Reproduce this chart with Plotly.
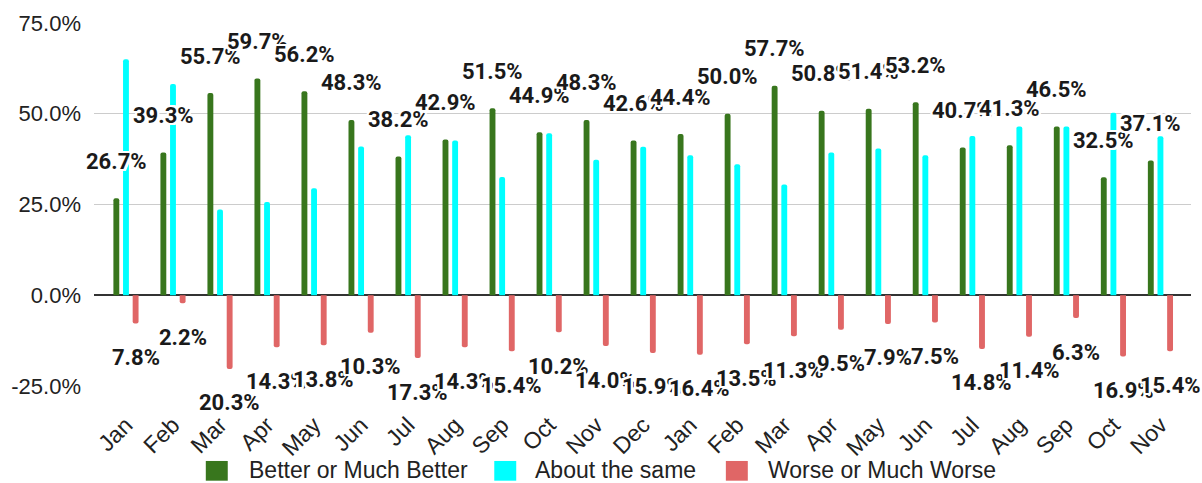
import plotly.graph_objects as go

# Monthly survey results, two consecutive years (Jan..Dec, Jan..Nov)
months = ["Jan", "Feb", "Mar", "Apr", "May", "Jun", "Jul", "Aug", "Sep", "Oct", "Nov", "Dec",
          "Jan", "Feb", "Mar", "Apr", "May", "Jun", "Jul", "Aug", "Sep", "Oct", "Nov"]

better = [26.7, 39.3, 55.7, 59.7, 56.2, 48.3, 38.2, 42.9, 51.5, 44.9, 48.3, 42.6,
          44.4, 50.0, 57.7, 50.8, 51.4, 53.2, 40.7, 41.3, 46.5, 32.5, 37.1]
same = [65.0, 58.2, 23.6, 25.7, 29.5, 41.0, 44.1, 42.6, 32.6, 44.6, 37.3, 40.9,
        38.6, 36.1, 30.5, 39.3, 40.4, 38.6, 43.9, 46.5, 46.5, 50.3, 43.8]
worse = [7.8, 2.2, 20.3, 14.3, 13.8, 10.3, 17.3, 14.3, 15.4, 10.2, 14.0, 15.9,
         16.4, 13.5, 11.3, 9.5, 7.9, 7.5, 14.8, 11.4, 6.3, 16.9, 15.4]

series_names = ["Better or Much Better", "About the same", "Worse or Much Worse"]
colors = ["#38761d", "#00ffff", "#e06666"]

y_ticks = [-25, 0, 25, 50, 75]
y_ticktext = [f"{v:.1f}%" for v in y_ticks]

# plot-area geometry (pixels)
W, H = 1202, 483
ML, MR, MT, MB = 92, 11, 18, 97
PW, PH = W - ML - MR, H - MT - MB

BAR_W = 0.125
CENTERS = [-0.205, 0.0, 0.205]

x = list(range(len(months)))
neg_worse = [-v for v in worse]

fig = go.Figure()
for vals, name, col, c in zip([better, same, neg_worse], series_names, colors, CENTERS):
    fig.add_trace(go.Bar(
        x=x, y=vals, name=name, marker_color=col, marker_line_width=0,
        width=BAR_W, offset=c - BAR_W / 2, showlegend=False,
    ))

halo = ", ".join(f"white {dx}px {dy}px 0px" for dx in (-2, -1, 0, 1, 2) for dy in (-2, -1, 0, 1, 2))
label_font = dict(family="Roboto", size=22, color="#1a1a1a", weight="bold", shadow=halo)

annotations = []
for i, v in enumerate(better):
    annotations.append(dict(x=i + CENTERS[0], y=v, xref="x", yref="y", text=f"{v:.1f}%",
                            showarrow=False, yshift=37, yanchor="middle", xanchor="center",
                            font=label_font))
for i, v in enumerate(worse):
    annotations.append(dict(x=i + CENTERS[2], y=-v, xref="x", yref="y", text=f"{v:.1f}%",
                            showarrow=False, yshift=-34, yanchor="middle", xanchor="center",
                            font=label_font))

# legend drawn as swatches + labels below the axis
shapes = []
legend_items = [(204, 245), (493, 532), (725, 765)]
for (sx, tx), name, col in zip(legend_items, series_names, colors):
    x0 = (sx - ML) / PW
    x1 = (sx + 22 - ML) / PW
    y0 = (MT + PH - 482) / PH
    y1 = (MT + PH - 462) / PH
    shapes.append(dict(type="rect", xref="paper", yref="paper", x0=x0, x1=x1, y0=y0, y1=y1,
                       fillcolor=col, line_width=0, layer="above"))
    annotations.append(dict(x=(tx - ML) / PW, y=(MT + PH - 471) / PH, xref="paper", yref="paper",
                            text=name, showarrow=False, xanchor="left", yanchor="middle",
                            font=dict(family="Liberation Sans", size=23, color="#222222")))

fig.update_layout(
    width=W, height=H,
    margin=dict(l=ML, r=MR, t=MT, b=MB, pad=0),
    paper_bgcolor="white", plot_bgcolor="white",
    barmode="overlay", barcornerradius=3,
    annotations=annotations, shapes=shapes,
    xaxis=dict(range=[-0.68, 22.65], tickmode="array", tickvals=x, ticktext=months,
               tickangle=-45, showgrid=False, zeroline=False, showline=False, ticks="",
               ticklabelstandoff=20,
               tickfont=dict(family="Liberation Sans", size=23, color="#222222")),
    yaxis=dict(range=[-25, 75], tickmode="array", tickvals=y_ticks, ticktext=y_ticktext,
               showgrid=True, gridcolor="#cccccc", gridwidth=1,
               zeroline=True, zerolinecolor="#333333", zerolinewidth=2, showline=False,
               ticks="", ticklabelstandoff=12,
               tickfont=dict(family="Liberation Sans", size=22, color="#222222")),
)

fig.write_html("out.html")
